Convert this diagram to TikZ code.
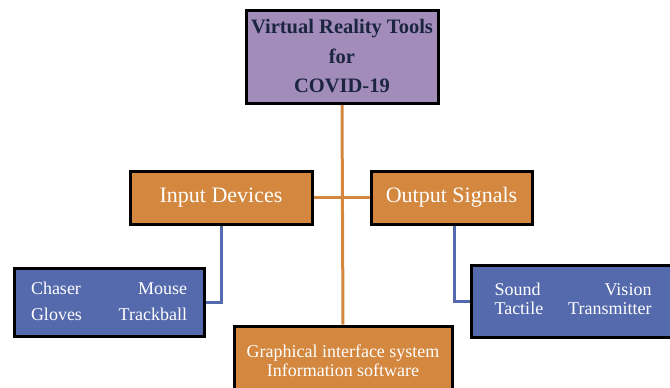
\documentclass[tikz,border=0pt]{standalone}
\usepackage{fontspec}
\setmainfont{Liberation Serif}
\usetikzlibrary{positioning, backgrounds}
\definecolor{vrpurple}{HTML}{A18CBA}
\definecolor{vrorange}{HTML}{D3873F}
\definecolor{vrblue}{HTML}{5569AD}
\definecolor{vrnavy}{HTML}{1C2540}
\tikzset{
  box/.style={draw=black, line width=3pt, inner sep=0pt, align=center},
  orangelink/.style={vrorange, line width=3pt},
  bluelink/.style={vrblue, line width=3pt}
}

\begin{document}
\begin{tikzpicture}[x=1pt, y=-1pt]
        \useasboundingbox (0,0) rectangle (670,388);
        \clip (0,0) rectangle (670,388);

        \node[box, fill=vrpurple, text=vrnavy, minimum width=192pt, minimum height=93pt,
              font=\fontsize{20.5}{29.5}\selectfont\bfseries] (title) at (342,56.5)
              {Virtual Reality Tools\\for\\COVID-19};

        \node[box, fill=vrorange, text=white, minimum width=182pt, minimum height=53pt,
              font=\fontsize{22}{26}\selectfont] (inp) at (221,197.5) {Input Devices};
        \node[box, fill=vrorange, text=white, minimum width=161pt, minimum height=53pt,
              font=\fontsize{22}{26}\selectfont] (outp) at (451.5,197.5) {Output Signals};

        \node[box, fill=vrblue, text=white, minimum width=190pt, minimum height=68pt,
              font=\fontsize{18}{26}\selectfont] (lbox) at (109,302)
              {\begin{tabular*}{156pt}{@{}l@{\extracolsep{\fill}}r@{}}Chaser & Mouse\\ Gloves & Trackball\end{tabular*}};
        \node[box, fill=vrblue, text=white, minimum width=204pt, minimum height=72pt,
              font=\fontsize{18}{19}\selectfont] (rbox) at (573,301)
              {\begin{tabular*}{157pt}{@{}l@{\extracolsep{\fill}}r@{}}Sound & Vision\\ Tactile & Transmitter\end{tabular*}};

        \node[box, fill=vrorange, text=white, minimum width=218pt, minimum height=69pt,
              font=\fontsize{18}{19}\selectfont] (gbox) at (343,360.5)
              {Graphical interface system\\Information software};

        % connectors
        \begin{scope}[on background layer]
          \draw[orangelink] (title.south) -- (gbox.north);
          \draw[orangelink] (inp.east) -- (outp.west);
          \draw[bluelink] (inp.south) |- (lbox.east);
          \draw[bluelink] ([xshift=2.5pt]outp.south) |- (rbox.west);
        \end{scope}
      \end{tikzpicture}
\end{document}
